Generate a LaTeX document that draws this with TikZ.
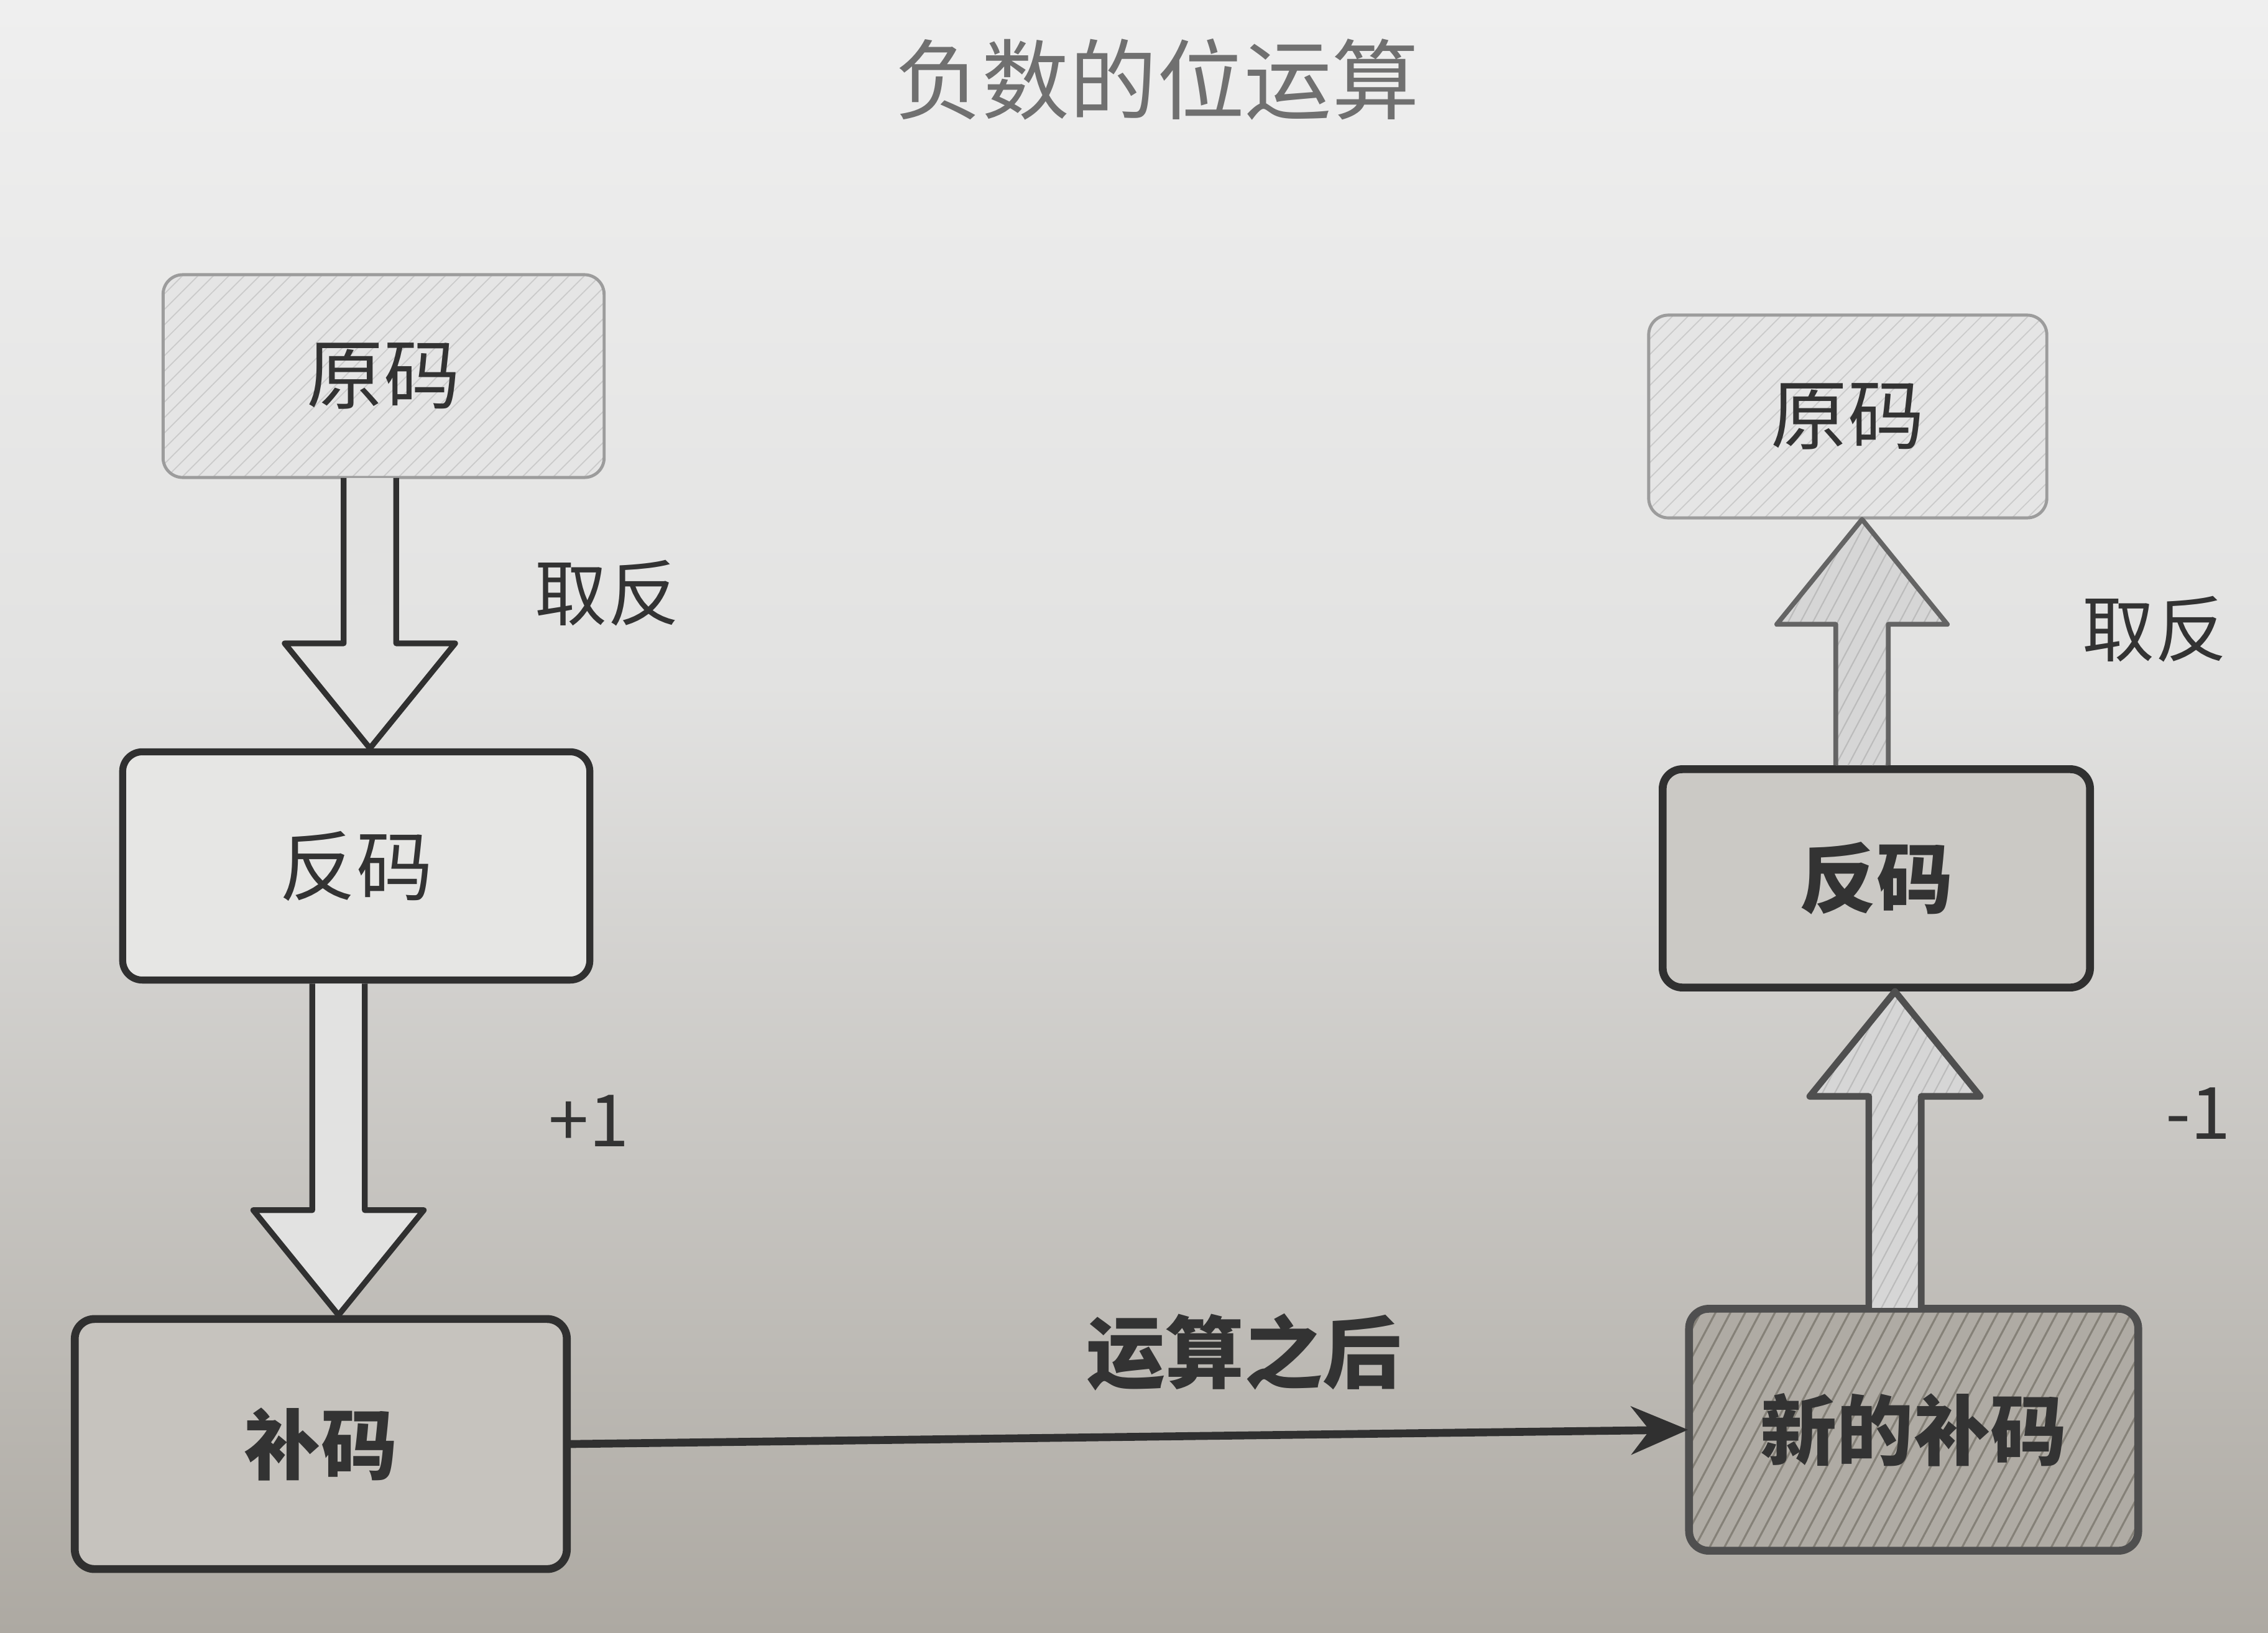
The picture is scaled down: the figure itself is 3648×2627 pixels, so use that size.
\documentclass[tikz,border=0pt]{standalone}
\usepackage{fontspec}
\setmainfont{Noto Sans CJK SC}
\usetikzlibrary{calc,patterns.meta,arrows.meta}
\definecolor{bgtop}{HTML}{EFEFEF}
\definecolor{bgup}{HTML}{E2E2E1}
\definecolor{bgmid}{HTML}{CDCBC7}
\definecolor{bgbot}{HTML}{ADA9A2}
\definecolor{titlegray}{HTML}{707070}
\definecolor{ink}{HTML}{333333}
\definecolor{lightbox}{HTML}{E5E5E5}
\definecolor{lighthatch}{HTML}{CACACA}
\definecolor{lightedge}{HTML}{9C9C9C}
\definecolor{darkedge}{HTML}{303030}
\definecolor{boxB}{HTML}{E6E6E4}
\definecolor{boxC}{HTML}{C6C3BE}
\definecolor{boxE}{HTML}{CBC9C5}
\definecolor{boxD}{HTML}{AFABA4}
\definecolor{hatchD}{HTML}{858178}
\newcommand{\blockarr}[4]{%
  \draw[#1] let \p1=(#2), \p2=(#3) in
    ({(\x1+\x2)/2-12pt},\y1) -- ({(\x1+\x2)/2-12pt},{\y2+#4*48pt})
    -- ({(\x1+\x2)/2-39pt},{\y2+#4*48pt}) -- ({(\x1+\x2)/2},\y2)
    -- ({(\x1+\x2)/2+39pt},{\y2+#4*48pt}) -- ({(\x1+\x2)/2+12pt},{\y2+#4*48pt})
    -- ({(\x1+\x2)/2+12pt},\y1);
}
\tikzset{
  box/.style={rectangle, rounded corners=9pt, align=center, font=\fontsize{35}{40}\selectfont, text=ink},
  lightbox/.style={box, draw=lightedge, line width=1.4pt,
    preaction={fill=lightbox},
    pattern={Lines[angle=45,distance=5pt,line width=0.5pt]}, pattern color=lighthatch},
  whitebox/.style={box, draw=darkedge, line width=3.2pt, fill=boxB},
  darkbox/.style={box, draw=darkedge, line width=3.6pt, fill=boxC, font=\fontsize{35}{40}\selectfont\bfseries},
  hatchbox/.style={box, draw=darkedge!85, line width=3.6pt, font=\fontsize{35}{40}\selectfont\bfseries,
    preaction={fill=boxD},
    pattern={Lines[angle=62,distance=6pt,line width=0.9pt]}, pattern color=hatchD},
  hollowarr/.style={draw=darkedge, line width=2.6pt, fill=bgup, line join=round},
  hatcharr/.style={draw=darkedge!75, line width=2.2pt, line join=round,
    preaction={fill=lightbox!85!gray},
    pattern={Lines[angle=62,distance=5pt,line width=0.6pt]}, pattern color=lighthatch!80!gray},
  lbl/.style={font=\fontsize{33}{38}\selectfont, text=ink},
  flow/.style={draw=darkedge, line width=3.6pt, -{Stealth[length=26pt,width=22pt]}}
}
\begin{document}
\begin{tikzpicture}[x=0.01cm,y=-0.01cm]
\useasboundingbox (0,0) rectangle (3648,2627);
\shade[top color=bgtop, bottom color=bgup] (0,0) rectangle (3648,1101);
\shade[top color=bgup, middle color=bgmid, bottom color=bgbot] (0,1100) rectangle (3648,2627);

\node[font=\fontsize{40}{46}\selectfont, text=titlegray] (title) at (1861,128) {负数的位运算};

% left column
\node[lightbox, minimum width=7.09cm, minimum height=3.26cm] (A) at (617,605) {原码};
\node[whitebox, minimum width=7.51cm, minimum height=3.67cm] (B) at (573,1393) {反码};
\node[darkbox, minimum width=7.91cm, minimum height=4.02cm] (C) at (516,2323) {补码};

% right column
\node[hatchbox, minimum width=7.22cm, minimum height=3.89cm] (D) at (3078,2300) {新的补码};
\node[darkbox, fill=boxE, minimum width=6.87cm, minimum height=3.51cm] (E) at (3018,1413) {反码};
\node[lightbox, minimum width=6.40cm, minimum height=3.26cm] (F) at (2972,670) {原码};

% block arrows
\blockarr{hollowarr}{A.south}{B.north}{1}
\blockarr{hollowarr}{B.south}{C.north}{1}
\blockarr{hatcharr, line width=3pt, draw=darkedge!85}{D.north}{E.south}{-1}
\blockarr{hatcharr}{E.north}{F.south}{-1}

% flow connector
\draw[flow] (C.east) -- (D.west);

% labels
\node[lbl] (l1) at (977,954) {取反};
\node[lbl] (l2) at (947,1803) {+1};
\node[lbl, font=\fontsize{36}{40}\selectfont\bfseries] (l3) at (2001,2175) {运算之后};
\node[lbl] (l4) at (3536,1791) {-1};
\node[lbl] (l5) at (3466,1012) {取反};
\end{tikzpicture}
\end{document}
